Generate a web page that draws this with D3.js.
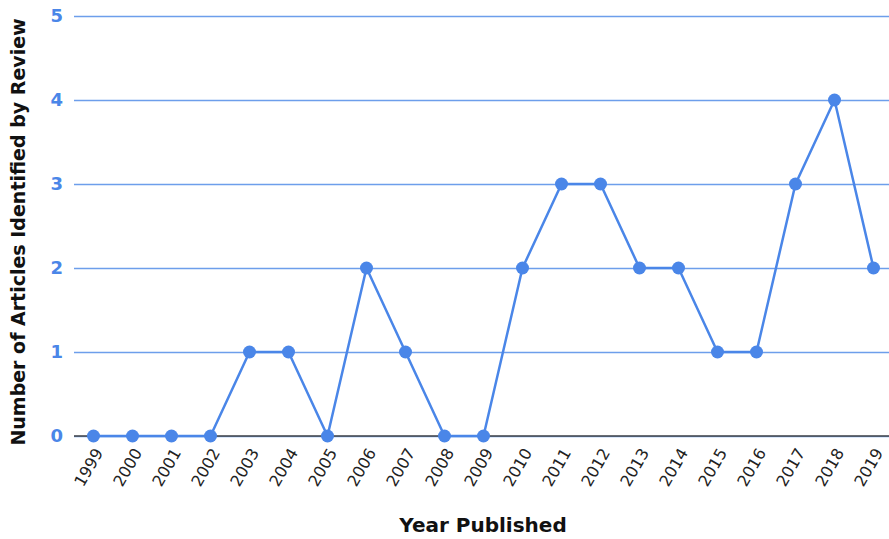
<!DOCTYPE html>
<html>
<head>
<meta charset="utf-8">
<script src="https://cdn.jsdelivr.net/npm/d3@7"></script>
<style>
body { margin: 0; background: #fff; }
text { font-family: "DejaVu Sans", Verdana, sans-serif; }
</style>
</head>
<body>
<script>
const years = ["1999","2000","2001","2002","2003","2004","2005","2006","2007","2008","2009",
               "2010","2011","2012","2013","2014","2015","2016","2017","2018","2019"];
const articles = [0,0,0,0,1,1,0,2,1,0,0,2,3,3,2,2,1,1,3,4,2];
const yTicks = [0,1,2,3,4,5];

const w = 889;
const h = 539;
const blue = "#4a86e8";

const svg = d3.select("body")
              .append("svg")
              .attr("width", w)
              .attr("height", h);

const x = d3.scalePoint()
    .domain(years)
    .range([74, 893])
    .padding(0.5);

const y = d3.scaleLinear()
    .domain([0, 5])
    .range([436, 16]);

// horizontal grid + blue tick labels
const yAxis = svg.append("g")
    .attr("transform", "translate(74,0)")
    .call(d3.axisLeft(y).tickValues(yTicks).tickSize(-(w - 74)).tickFormat(d3.format("d")));
yAxis.attr("font-family", null).attr("font-size", "18px");
yAxis.select(".domain").remove();
yAxis.selectAll(".tick line").attr("stroke", "#6d9eeb").attr("stroke-width", 1.5);
yAxis.selectAll(".tick text")
    .attr("x", -11)
    .attr("fill", blue)
    .attr("font-weight", "bold");

// baseline
svg.append("line")
    .attr("x1", 74).attr("x2", w)
    .attr("y1", y(0)).attr("y2", y(0))
    .attr("stroke", "#444")
    .attr("stroke-width", 1.5);

// x axis labels
const xAxis = svg.append("g")
    .attr("transform", "translate(0," + y(0) + ")")
    .call(d3.axisBottom(x).tickSize(0));
xAxis.attr("font-size", "16px").attr("font-family", null);
xAxis.select(".domain").remove();
xAxis.selectAll(".tick text")
    .attr("fill", "#222")
    .attr("text-anchor", "end")
    .attr("dy", null)
    .attr("transform", "translate(7,15) rotate(-60)");

const line = d3.line()
    .x((d, i) => x(years[i]))
    .y(d => y(d));

svg.append("path")
    .datum(articles)
    .attr("fill", "none")
    .attr("stroke", blue)
    .attr("stroke-width", 2.5)
    .attr("stroke-linejoin", "round")
    .attr("d", line);

svg.selectAll("circle")
    .data(articles)
    .enter()
    .append("circle")
    .attr("cx", (d, i) => x(years[i]))
    .attr("cy", d => y(d))
    .attr("r", 6.5)
    .attr("fill", blue);

svg.append("text")
    .attr("x", 483)
    .attr("y", 532)
    .attr("text-anchor", "middle")
    .attr("font-size", "20px")
    .attr("font-weight", "bold")
    .attr("fill", "#111")
    .text("Year Published");

svg.append("text")
    .attr("transform", "translate(25,232) rotate(-90)")
    .attr("text-anchor", "middle")
    .attr("font-size", "19px")
    .attr("font-weight", "bold")
    .attr("fill", "#111")
    .text("Number of Articles Identified by Review");
</script>
</body>
</html>
